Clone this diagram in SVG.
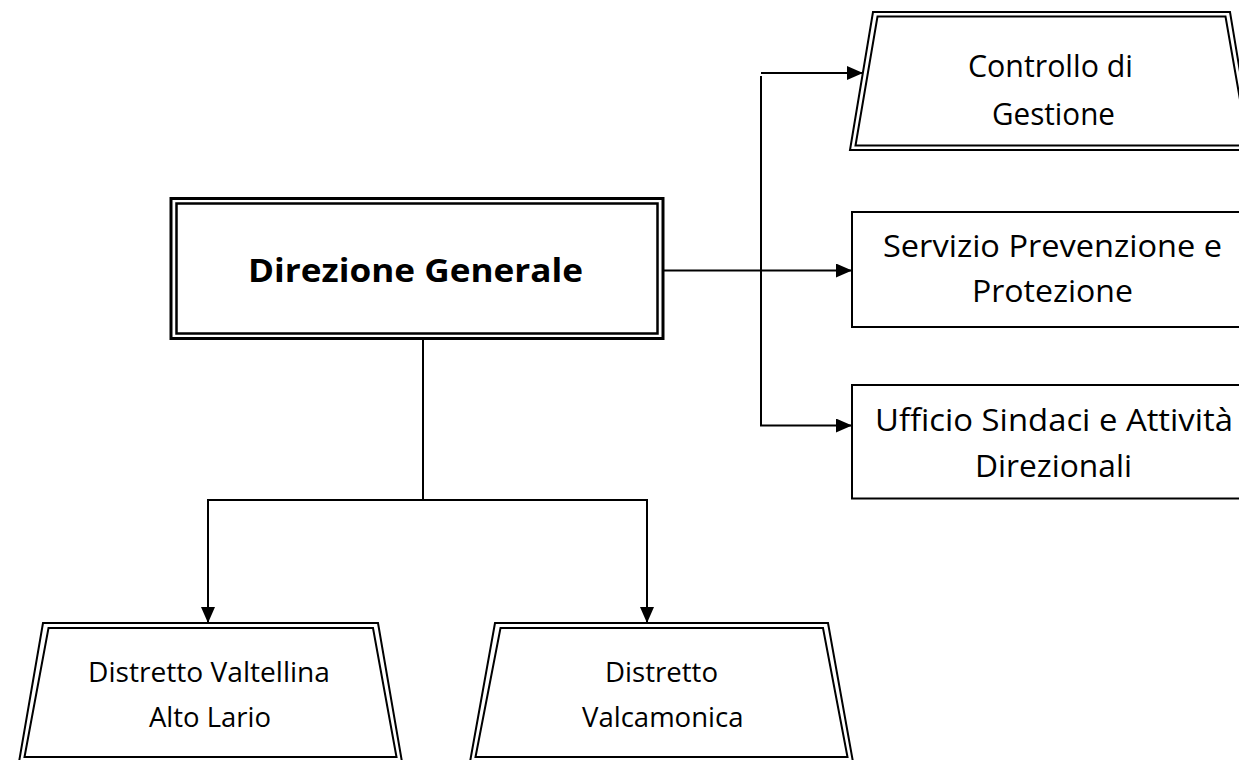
<svg xmlns="http://www.w3.org/2000/svg" width="1239" height="760" viewBox="0 0 1239 760">
<style>
.bg{fill:#fff}
.o3{fill:#fff;stroke:#000;stroke-width:3}
.i3{fill:none;stroke:#000;stroke-width:2.5}
.o2{fill:#fff;stroke:#000;stroke-width:2}
.i2{fill:none;stroke:#000;stroke-width:2}
.box{fill:#fff;stroke:#000;stroke-width:2}
.c{fill:none;stroke:#000;stroke-width:2}
text{font-family:"Open Sans",Lato,"Liberation Sans",sans-serif;fill:#000;font-variant-ligatures:none}
.t30{font-size:31.5px}
.t25{font-size:26.5px}
.tb{font-size:33px;font-weight:bold}
</style>
<defs>
<marker id="ah" viewBox="0 0 16 14" refX="15" refY="7" markerWidth="16" markerHeight="14" markerUnits="userSpaceOnUse" orient="auto">
<path d="M0,0 L16,7 L0,14 z" fill="#000"/>
</marker>
</defs>
<rect class="bg" x="0" y="0" width="1239" height="760"/>

<g id="connectors">
<path class="c" d="M663,270.5 H851" marker-end="url(#ah)"/>
<path class="c" d="M761,76 V425.5 H851" marker-end="url(#ah)"/>
<path class="c" d="M761,73 H862" marker-end="url(#ah)"/>
<path class="c" d="M423,339 V500"/>
<path class="c" d="M208,500 H647"/>
<path class="c" d="M208,499 V622" marker-end="url(#ah)"/>
<path class="c" d="M647,499 V622" marker-end="url(#ah)"/>
</g>

<g id="direzione-generale">
<rect class="o3" x="171" y="198.5" width="492" height="140"/>
<rect class="i3" x="176.5" y="203.5" width="481" height="130"/>
<text class="tb" x="248" y="282" textLength="335" lengthAdjust="spacingAndGlyphs">Direzione Generale</text>
</g>

<g id="controllo-gestione">
<polygon class="o2" points="873,12 1230,12 1253,150 850,150"/>
<polygon class="i2" points="877.5,16.5 1225.5,16.5 1248,145.5 855.5,145.5"/>
<text class="t30" x="968" y="77" textLength="165" lengthAdjust="spacingAndGlyphs">Controllo di</text>
<text class="t30" x="992" y="125" textLength="123" lengthAdjust="spacingAndGlyphs">Gestione</text>
</g>

<g id="servizio-prevenzione">
<rect class="box" x="852" y="212" width="400" height="115"/>
<text class="t30" x="883" y="257" textLength="339" lengthAdjust="spacingAndGlyphs">Servizio Prevenzione e</text>
<text class="t30" x="972" y="301.5" textLength="161" lengthAdjust="spacingAndGlyphs">Protezione</text>
</g>

<g id="ufficio-sindaci">
<rect class="box" x="852" y="385" width="400" height="113.5"/>
<text class="t30" x="875" y="431" textLength="358" lengthAdjust="spacingAndGlyphs">Ufficio Sindaci e Attività</text>
<text class="t30" x="975" y="476.5" textLength="157" lengthAdjust="spacingAndGlyphs">Direzionali</text>
</g>

<g id="distretto-valtellina">
<polygon class="o2" points="43,623 378,623 402,762 19,762"/>
<polygon class="i2" points="48.5,628 373,628 396.5,757 24.5,757"/>
<text class="t25" x="88" y="682" textLength="242" lengthAdjust="spacingAndGlyphs">Distretto Valtellina</text>
<text class="t25" x="149" y="726.5" textLength="122" lengthAdjust="spacingAndGlyphs">Alto Lario</text>
</g>

<g id="distretto-valcamonica">
<polygon class="o2" points="495,623 828,623 853,762 470,762"/>
<polygon class="i2" points="500.5,628 823,628 847.5,757 475.5,757"/>
<text class="t25" x="605" y="682" textLength="113" lengthAdjust="spacingAndGlyphs">Distretto</text>
<text class="t25" x="582" y="726.5" textLength="161.5" lengthAdjust="spacingAndGlyphs">Valcamonica</text>
</g>
</svg>
